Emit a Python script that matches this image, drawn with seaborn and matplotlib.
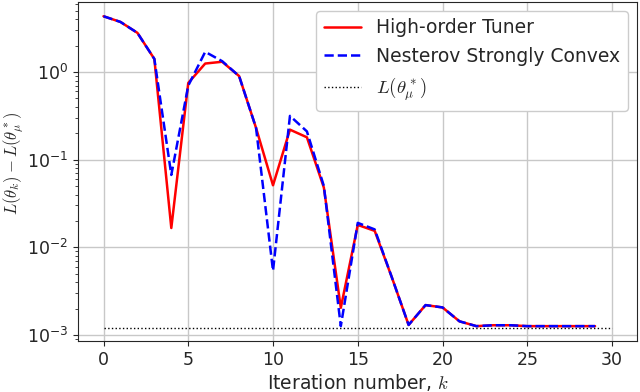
import matplotlib
matplotlib.use('Agg')
import matplotlib.pyplot as plt
import pandas as pd
import seaborn as sns

# Values
iterations = list(range(30))
high_order = [4.33, 3.73, 2.8, 1.41, 0.0166, 0.75, 1.25, 1.31, 0.9, 0.23,
              0.051, 0.22, 0.18, 0.048, 0.00204, 0.018, 0.0154, 0.0046, 0.0013, 0.00219,
              0.00206, 0.00143, 0.00126, 0.00129, 0.00129, 0.00126, 0.00126, 0.00126, 0.00126, 0.00126]
nesterov = [4.33, 3.73, 2.8, 1.41, 0.067, 0.7, 1.70, 1.33, 0.9, 0.23,
            0.0054, 0.316, 0.21, 0.05, 0.00126, 0.019, 0.016, 0.0046, 0.0013, 0.00219,
            0.00206, 0.00143, 0.00126, 0.00129, 0.00129, 0.00126, 0.00126, 0.00126, 0.00126, 0.00126]
optimum = 0.00121
opt_x = [0, 30]

df = pd.DataFrame({'k': iterations, 'hot': high_order, 'nes': nesterov})

sns.set_style('ticks', {'xtick.major.size': 3.5, 'ytick.major.size': 3.5,
                        'ytick.minor.size': 2, 'axes.edgecolor': '.15'})
plt.rcParams['font.family'] = ['DejaVu Sans']
plt.rcParams['mathtext.fontset'] = 'cm'

fig, ax = plt.subplots(figsize=(6.4, 3.92), dpi=100)
sns.lineplot(x='k', y='hot', data=df, ax=ax, color='red', linewidth=1.8,
             label='High-order Tuner')
sns.lineplot(x='k', y='nes', data=df, ax=ax, color='blue', linewidth=1.8,
             linestyle='--', label='Nesterov Strongly Convex')
ax.plot(opt_x, [optimum, optimum], color='black', linestyle=':', linewidth=1.0,
        label=r'$L(\theta_\mu^*)$')

ax.set_yscale('log')
ax.set_ylim(8.43e-4, 6.37)
ax.set_xlim(-1.5, 31.5)
ax.set_xticks([0, 5, 10, 15, 20, 25, 30])
ax.grid(True, which='major', color='#c8c8c8', linewidth=1)
ax.tick_params(labelsize=12.5)
ax.set_xlabel(r'Iteration number, $k$', fontsize=13.5, labelpad=2)
ax.set_ylabel(r'$L(\theta_k) - L(\theta^*_\mu)$', fontsize=12)
ax.yaxis.set_label_coords(-0.093, 0.523)
ax.legend(loc='upper right', fontsize=13.5, framealpha=1)

fig.subplots_adjust(left=0.122, right=0.996, bottom=0.129, top=0.996)
fig.savefig('out.png')
